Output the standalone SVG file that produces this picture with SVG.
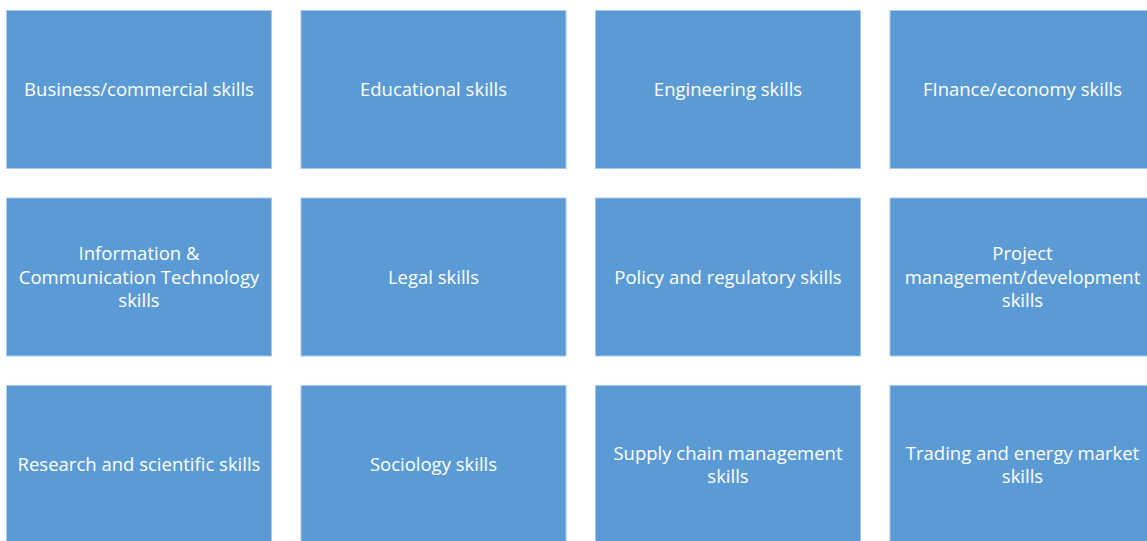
<svg xmlns="http://www.w3.org/2000/svg" width="1147" height="541" viewBox="0 0 1147 541">
  <style>
    .box { fill: #5B9BD5; stroke: #A9C8E8; stroke-width: 1; }
    .lbl { fill: #FFFFFF; font-family: "Open Sans", "Noto Sans", sans-serif; font-size: 18.5px; text-anchor: middle; }
  </style>
  <rect width="1147" height="541" fill="#FFFFFF"/>
  <g id="connectors"/>
  <!-- row 1 -->
  <g id="business">
    <rect class="box" x="6.5" y="10.5" width="265" height="158"/>
    <text class="lbl" x="139" y="96">Business/commercial skills</text>
  </g>
  <g id="educational">
    <rect class="box" x="301" y="10.5" width="265" height="158"/>
    <text class="lbl" x="433.5" y="96">Educational skills</text>
  </g>
  <g id="engineering">
    <rect class="box" x="595.5" y="10.5" width="265" height="158"/>
    <text class="lbl" x="728" y="96">Engineering skills</text>
  </g>
  <g id="finance">
    <rect class="box" x="890" y="10.5" width="265" height="158"/>
    <text class="lbl" x="1022.5" y="96">FInance/economy skills</text>
  </g>
  <!-- row 2 -->
  <g id="ict">
    <rect class="box" x="6.5" y="198" width="265" height="158"/>
    <text class="lbl" x="139" y="260">Information &amp;</text>
    <text class="lbl" x="139" y="283.5">Communication Technology</text>
    <text class="lbl" x="139" y="307">skills</text>
  </g>
  <g id="legal">
    <rect class="box" x="301" y="198" width="265" height="158"/>
    <text class="lbl" x="433.5" y="283.5">Legal skills</text>
  </g>
  <g id="policy">
    <rect class="box" x="595.5" y="198" width="265" height="158"/>
    <text class="lbl" x="728" y="283.5">Policy and regulatory skills</text>
  </g>
  <g id="project">
    <rect class="box" x="890" y="198" width="265" height="158"/>
    <text class="lbl" x="1022.5" y="260">Project</text>
    <text class="lbl" x="1022.5" y="283.5">management/development</text>
    <text class="lbl" x="1022.5" y="307">skills</text>
  </g>
  <!-- row 3 -->
  <g id="research">
    <rect class="box" x="6.5" y="385.5" width="265" height="160"/>
    <text class="lbl" x="139" y="471">Research and scientific skills</text>
  </g>
  <g id="sociology">
    <rect class="box" x="301" y="385.5" width="265" height="160"/>
    <text class="lbl" x="433.5" y="471">Sociology skills</text>
  </g>
  <g id="supply">
    <rect class="box" x="595.5" y="385.5" width="265" height="160"/>
    <text class="lbl" x="728" y="459.5">Supply chain management</text>
    <text class="lbl" x="728" y="483">skills</text>
  </g>
  <g id="trading">
    <rect class="box" x="890" y="385.5" width="265" height="160"/>
    <text class="lbl" x="1022.5" y="459.5">Trading and energy market</text>
    <text class="lbl" x="1022.5" y="483">skills</text>
  </g>
</svg>
